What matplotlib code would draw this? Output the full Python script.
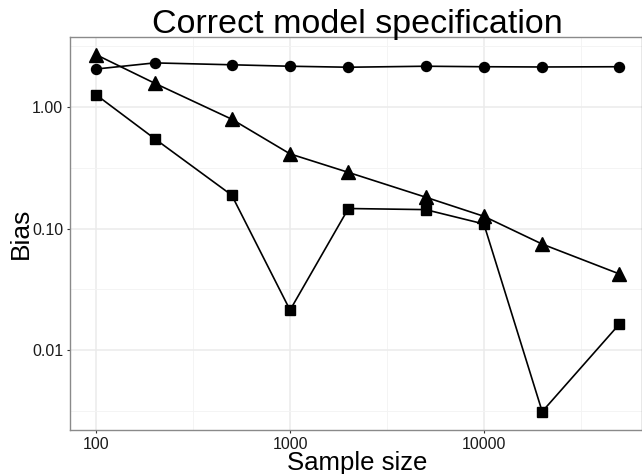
import matplotlib
matplotlib.use("Agg")
import matplotlib.pyplot as plt
from matplotlib.ticker import FixedLocator, NullFormatter

plt.rcParams['font.family'] = ['Liberation Sans', 'DejaVu Sans']

sample_size = [100, 200, 500, 1000, 2000, 5000, 10000, 20000, 50000]
bias_circle = [2.04, 2.29, 2.21, 2.15, 2.11, 2.15, 2.13, 2.12, 2.13]
bias_triangle = [2.67, 1.56, 0.79, 0.41, 0.289, 0.181, 0.126, 0.0745, 0.0424]
bias_square = [1.25, 0.547, 0.188, 0.0214, 0.146, 0.143, 0.109, 0.00314, 0.0164]

x_ticks = [100, 1000, 10000]
x_tick_labels = ["100", "1000", "10000"]
y_ticks = [0.01, 0.1, 1.0]
y_tick_labels = ["0.01", "0.10", "1.00"]

W, H = 642, 474
fig = plt.figure(figsize=(W / 100, H / 100), dpi=100)
ax = fig.add_axes([70.3 / W, 1 - 430 / H, (W - 70.3) / W, (430 - 37.3) / H])

ax.set_xscale('log')
ax.set_yscale('log')
ax.set_xlim(10 ** 1.866, 10 ** 4.816)
ax.set_ylim(10 ** -2.654, 10 ** 0.570)

# grid
for v in x_ticks:
    ax.axvline(v, color='#EBEBEB', lw=1.1, zorder=0)
for v in [10 ** 2.5, 10 ** 3.5, 10 ** 4.5]:
    ax.axvline(v, color='#F3F3F3', lw=0.6, zorder=0)
for v in y_ticks:
    ax.axhline(v, color='#EBEBEB', lw=1.1, zorder=0)
for v in [10 ** 0.5, 10 ** -0.5, 10 ** -1.5, 10 ** -2.5]:
    ax.axhline(v, color='#F3F3F3', lw=0.6, zorder=0)

lw = 1.2
ax.plot(sample_size, bias_circle, color='black', lw=lw, marker='o', ms=7.2, zorder=3)
ax.plot(sample_size, bias_triangle, color='black', lw=lw, marker='^', ms=9.8, zorder=3)
ax.plot(sample_size, bias_square, color='black', lw=lw, marker='s', ms=7.8, zorder=3)

ax.xaxis.set_major_locator(FixedLocator(x_ticks))
ax.xaxis.set_minor_locator(FixedLocator([]))
ax.set_xticklabels(x_tick_labels)
ax.xaxis.set_minor_formatter(NullFormatter())
ax.yaxis.set_major_locator(FixedLocator(y_ticks))
ax.yaxis.set_minor_locator(FixedLocator([]))
ax.set_yticklabels(y_tick_labels)
ax.yaxis.set_minor_formatter(NullFormatter())

ax.tick_params(axis='both', which='major', length=2.5, width=0.8, color='#333333',
               labelsize=11.5, labelcolor='#1a1a1a', pad=2.5)

for side in ['left', 'bottom', 'top', 'right']:
    ax.spines[side].set_color('#8a8a8a')
    ax.spines[side].set_linewidth(1.0)

fig.text(357 / W, 1 - 33.5 / H, "Correct model specification", ha='center', va='baseline',
         fontsize=24.5, color='black')
fig.text(357.5 / W, 1 - 470 / H, "Sample size", ha='center', va='baseline',
         fontsize=18.5, color='black')
fig.text(20.5 / W, 1 - 233 / H, "Bias", ha='center', va='center', rotation=90,
         fontsize=19, color='black')

fig.savefig("out.png", dpi=100)
